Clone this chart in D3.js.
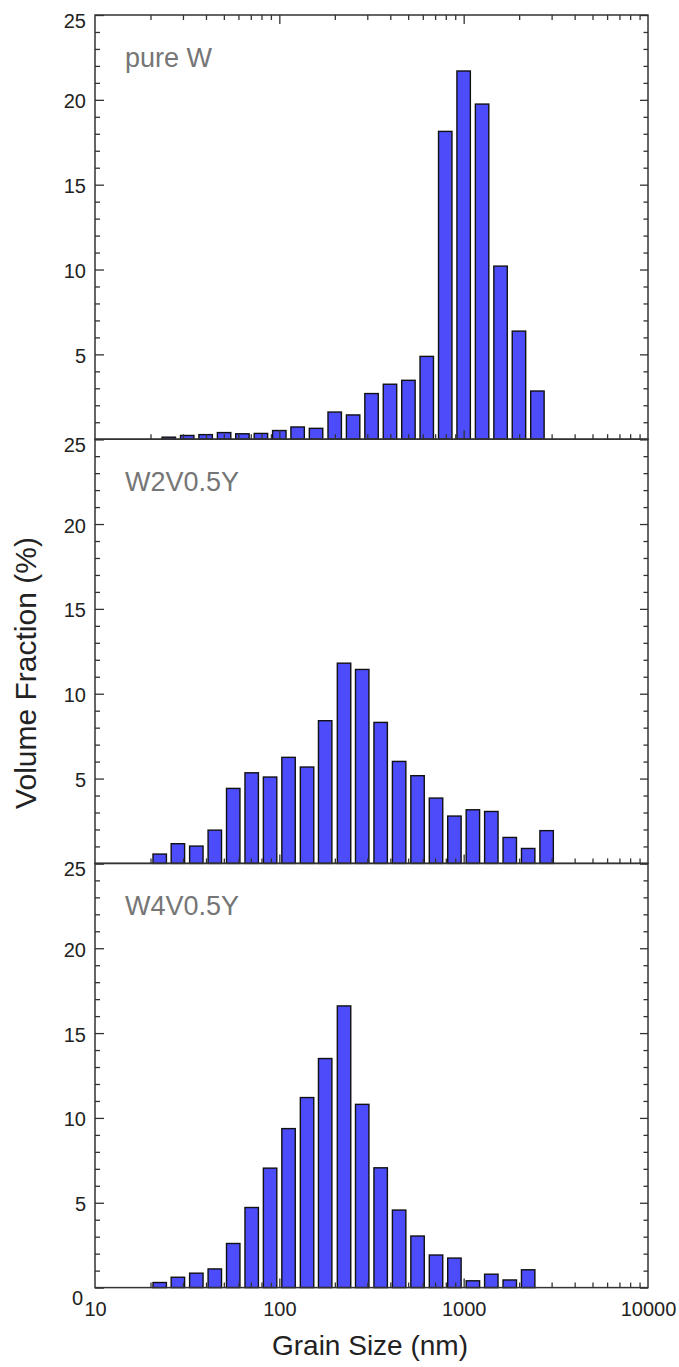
<!DOCTYPE html>
<meta charset="utf-8">
<style>
body { margin: 0; background: #fff; }
svg { font-family: "Liberation Sans", Arial, sans-serif; }
.frame { fill: none; stroke: #333; stroke-width: 1.5px; }
.ticks path.domain { display: none; }
.ticks line { stroke: #333; stroke-width: 1.3px; }
.labels path.domain { display: none; }
.labels text { font-size: 20px; fill: #222; }
.bar { fill: #4c4cfa; stroke: #111; stroke-width: 1.4px; }
.name { font-size: 27px; fill: #767676; }
.title { font-size: 28px; fill: #222; }
</style>
<svg width="679" height="1367"></svg>
<script src="https://d3js.org/d3.v7.min.js"></script>
<script>
// bin lower edges (nm), 10 bins per decade
var pureWBins = [22.4, 28.2, 35.5, 44.7, 56.2, 70.8, 89.1, 112, 141, 178, 224, 282, 355, 447, 562, 708, 891, 1122, 1413, 1778, 2239];
var pureWValues = [0.12, 0.22, 0.27, 0.39, 0.32, 0.34, 0.51, 0.72, 0.64, 1.6, 1.43, 2.69, 3.24, 3.47, 4.88, 18.14, 21.7, 19.75, 10.2, 6.37, 2.84];

var w2vBins = [20, 25.1, 31.6, 39.8, 50.1, 63.1, 79.4, 100, 126, 158, 200, 251, 316, 398, 501, 631, 794, 1000, 1259, 1585, 1995, 2512];
var w2vValues = [0.55, 1.16, 1.02, 1.96, 4.42, 5.34, 5.09, 6.25, 5.68, 8.41, 11.8, 11.43, 8.31, 6.01, 5.17, 3.85, 2.79, 3.16, 3.06, 1.53, 0.88, 1.93];

var w4vBins = [20, 25.1, 31.6, 39.8, 50.1, 63.1, 79.4, 100, 126, 158, 200, 251, 316, 398, 501, 631, 794, 1000, 1259, 1585, 1995];
var w4vValues = [0.3, 0.61, 0.85, 1.1, 2.6, 4.72, 7.04, 9.37, 11.2, 13.5, 16.6, 10.8, 7.06, 4.57, 3.04, 1.92, 1.74, 0.4, 0.79, 0.45, 1.05];

var panelNames = ["pure W", "W2V0.5Y", "W4V0.5Y"];
var xTickLabels = [10, 100, 1000, 10000];
var yMajor = [0, 5, 10, 15, 20, 25];

var svg = d3.select("svg"),
    left = 95, right = 648,
    panelTop = 15, panelH = 424.2;

var x = d3.scaleLog().domain([10, 10000]).range([left, right]);
var binStep = Math.pow(10, 0.1);

var xMinor = [];
[10, 100, 1000].forEach(function(d) {
  for (var k = 2; k <= 9; k++) xMinor.push(d * k);
});
var xMajor = [100, 1000];
var yMinor = d3.range(1, 25).filter(function(d) { return d % 5 !== 0; });

var panels = [
  { name: panelNames[0], bins: pureWBins, values: pureWValues },
  { name: panelNames[1], bins: w2vBins, values: w2vValues },
  { name: panelNames[2], bins: w4vBins, values: w4vValues }
];

panels.forEach(function(p, i) {
  var top = panelTop + i * panelH,
      bottom = top + panelH;
  var y = d3.scaleLinear().domain([0, 25]).range([bottom, top]);
  var g = svg.append("g");

  // bars
  g.selectAll("rect.bar")
    .data(p.bins.map(function(b, j) { return { lo: b, hi: b * binStep, v: p.values[j] }; }))
    .enter().append("rect")
      .attr("class", "bar")
      .attr("x", function(d) { return x(d.lo) + 2.5; })
      .attr("width", function(d) { return x(d.hi) - x(d.lo) - 5; })
      .attr("y", function(d) { return y(d.v); })
      .attr("height", function(d) { return y(0) - y(d.v); });

  // inward ticks
  function ticks(axis, tx, ty) {
    g.append("g").attr("class", "ticks")
      .attr("transform", "translate(" + tx + "," + ty + ")")
      .call(axis.tickFormat(""));
  }
  ticks(d3.axisRight(y).tickValues(yMajor).tickSize(9), left, 0);
  ticks(d3.axisRight(y).tickValues(yMinor).tickSize(5), left, 0);
  ticks(d3.axisLeft(y).tickValues(yMajor).tickSize(8), right, 0);
  ticks(d3.axisLeft(y).tickValues(yMinor).tickSize(4.5), right, 0);
  ticks(d3.axisTop(x).tickValues(xMajor).tickSize(9), 0, bottom);
  ticks(d3.axisTop(x).tickValues(xMinor).tickSize(5), 0, bottom);
  if (i === 0) {
    ticks(d3.axisBottom(x).tickValues(xMajor).tickSize(9), 0, top);
    ticks(d3.axisBottom(x).tickValues(xMinor).tickSize(5), 0, top);
  }

  // frame
  g.append("rect").attr("class", "frame")
    .attr("x", left).attr("y", top)
    .attr("width", right - left).attr("height", bottom - top);

  // y labels
  var vals = i === 2 ? yMajor : yMajor.slice(1);
  var lab = g.append("g").attr("class", "labels")
    .attr("transform", "translate(" + left + ",0)")
    .call(d3.axisLeft(y).tickValues(vals).tickSize(0).tickPadding(9));
  lab.selectAll("text")
    .attr("dy", function(d) { return d === 25 ? "0.62em" : d === 0 ? "0.82em" : "0.4em"; })
    .attr("dx", function(d) { return d === 0 ? -3 : 0; });

  g.append("text").attr("class", "name")
    .attr("x", 125).attr("y", top + 52)
    .text(p.name);

  if (i === 2) {
    g.append("g").attr("class", "labels")
      .attr("transform", "translate(0," + bottom + ")")
      .call(d3.axisBottom(x).tickValues(xTickLabels).tickSize(0).tickPadding(14).tickFormat(d3.format("d")));
  }
});

svg.append("text").attr("class", "title")
  .attr("text-anchor", "middle")
  .attr("x", 370).attr("y", 1355)
  .text("Grain Size (nm)");

svg.append("text").attr("class", "title")
  .attr("text-anchor", "middle")
  .attr("transform", "translate(36,673) rotate(-90)")
  .style("font-size", "30px")
  .text("Volume Fraction (%)");
</script>
